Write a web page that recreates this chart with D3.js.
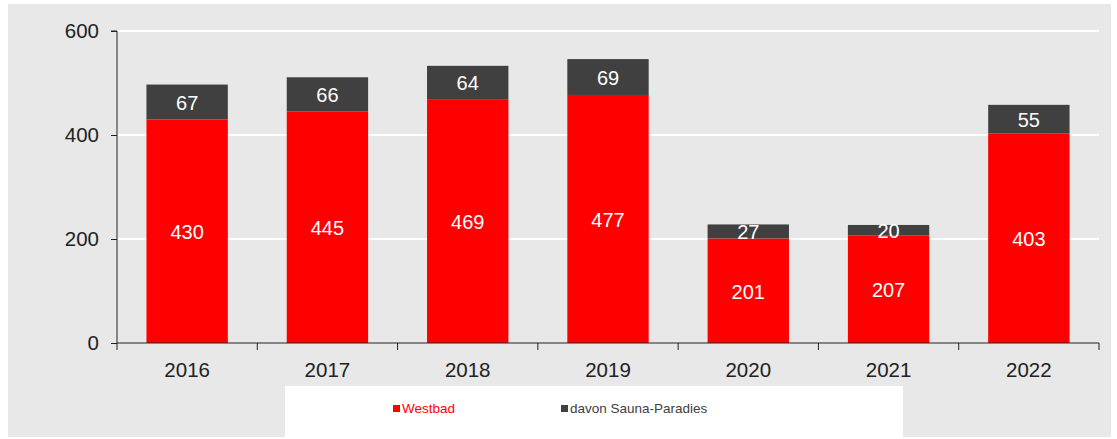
<!DOCTYPE html>
<html><head><meta charset="utf-8">
<script src="https://cdn.jsdelivr.net/npm/d3@7"></script>
<style>body{margin:0;background:#fff}svg{display:block}text{font-family:"Liberation Sans",Arial,sans-serif}</style>
</head><body>
<svg id="c" width="1117" height="439"></svg>
<script>
const years = ["2016","2017","2018","2019","2020","2021","2022"];
const westbad = [430,445,469,477,201,207,403];
const sauna = [67,66,64,69,27,20,55];
const yTicks = [0,200,400,600];
const seriesNames = ["Westbad","davon Sauna-Paradies"];
const colors = ["#ff0000","#404040"];

const svg = d3.select("#c");
svg.append("rect").attr("x",8).attr("y",4).attr("width",1103).attr("height",433).attr("fill","#e8e8e8");

const x = d3.scaleBand().domain(years).range([117,1099]).paddingInner(0.42).paddingOuter(0.21);
const y = d3.scaleLinear().domain([0,600]).range([343,31]);

// gridlines
svg.append("g").selectAll("line").data(yTicks.filter(d=>d>0)).join("line")
  .attr("x1",117).attr("x2",1099).attr("y1",d=>y(d)).attr("y2",d=>y(d))
  .attr("stroke","#fff").attr("stroke-width",2);

const rows = years.map((yr,i)=>({year:yr,w:westbad[i],s:sauna[i]}));
// red bars
svg.append("g").selectAll("rect").data(rows).join("rect")
  .attr("x",d=>x(d.year)).attr("width",x.bandwidth())
  .attr("y",d=>y(d.w)).attr("height",d=>y(0)-y(d.w)).attr("fill",colors[0]);
// grey bars
svg.append("g").selectAll("rect").data(rows).join("rect")
  .attr("x",d=>x(d.year)).attr("width",x.bandwidth())
  .attr("y",d=>y(d.w+d.s)).attr("height",d=>y(d.w)-y(d.w+d.s)).attr("fill",colors[1]);

// labels
svg.append("g").selectAll("text").data(rows).join("text")
  .attr("x",d=>x(d.year)+x.bandwidth()/2).attr("y",d=>(y(d.w)+y(0))/2+1).attr("dy","0.35em")
  .attr("text-anchor","middle").attr("fill","#fff").attr("font-size",20).text(d=>d.w);
svg.append("g").selectAll("text").data(rows).join("text")
  .attr("x",d=>x(d.year)+x.bandwidth()/2).attr("y",d=>(y(d.w)+y(d.w+d.s))/2+1).attr("dy","0.35em")
  .attr("text-anchor","middle").attr("fill","#fff").attr("font-size",20).text(d=>d.s);

// y axis
const ya = svg.append("g").attr("transform","translate(117,0)")
  .call(d3.axisLeft(y).tickValues(yTicks).tickSize(6).tickPadding(12).tickFormat(d3.format("d")));
ya.select(".domain").attr("stroke","#222").attr("d","M-6,"+y(600)+"H0V"+y(0));
ya.selectAll("line").attr("stroke","#222");
ya.selectAll("text").attr("font-size",20.5).attr("fill","#222").attr("font-family","Liberation Sans, Arial, sans-serif");

// x axis
const xa = svg.append("g").attr("transform","translate(0,343)");
xa.append("line").attr("x1",117).attr("x2",1099).attr("stroke","#222");
const bounds = years.map(d=>x(d)-x.step()*x.paddingInner()/2).concat([1099]);
xa.selectAll("line.t").data(bounds).join("line").attr("class","t")
  .attr("x1",d=>d).attr("x2",d=>d).attr("y1",0).attr("y2",7).attr("stroke","#222");
xa.selectAll("text").data(years).join("text")
  .attr("x",d=>x(d)+x.bandwidth()/2).attr("y",34).attr("text-anchor","middle")
  .attr("font-size",20.5).attr("fill","#222").text(d=>d);

// legend
const lg = svg.append("g");
lg.append("rect").attr("x",285).attr("y",386).attr("width",618).attr("height",51).attr("fill","#fff");
const lx = [393,561];
seriesNames.forEach((n,i)=>{
  lg.append("rect").attr("x",lx[i]).attr("y",405).attr("width",7).attr("height",7).attr("fill",colors[i]);
  lg.append("text").attr("x",lx[i]+9).attr("y",413).attr("font-size",13.5)
    .attr("fill",i===0?"#ff0000":"#404040").text(n);
});
</script>
</body></html>
